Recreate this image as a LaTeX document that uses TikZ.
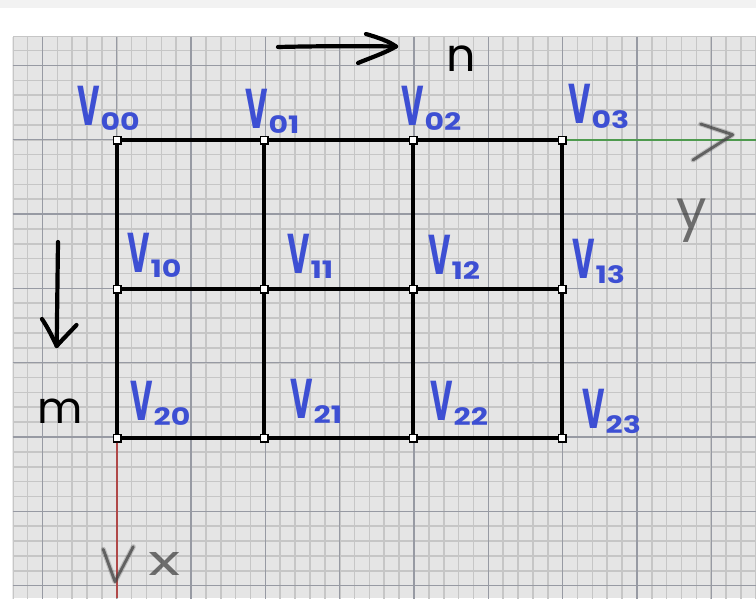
\documentclass[tikz,border=0pt]{standalone}
\usepackage{fontspec}
\setmainfont{Poppins}
\definecolor{paper}{HTML}{E5E5E5}
\definecolor{minorline}{HTML}{C6C6C6}
\definecolor{majorline}{HTML}{979AA3}
\definecolor{ink}{HTML}{3D4FD3}
\definecolor{axisgreen}{HTML}{4E9A4E}
\definecolor{axisred}{HTML}{B04848}
\definecolor{pencil}{HTML}{454545}
\definecolor{topband}{HTML}{F2F2F2}

% handwritten-style vertex name: narrow V with a wide subscript
\newcommand\vname[1]{\scalebox{0.55}[1]{\fontsize{56}{56}\selectfont V}\kern1pt\raisebox{-5pt}{\scalebox{1.25}[1]{\fontsize{24}{24}\selectfont #1}}}

\tikzset{
  vertex/.style={rectangle, draw=black, fill=white, line width=1.5pt, minimum size=7.5pt, inner sep=0pt},
  meshedge/.style={line width=3.3pt},
  vlabel/.style={text=ink, font=\bfseries, inner sep=0pt, anchor=base west},
  inkstroke/.style={line width=4.2pt, line cap=round, line join=round},
  pencilsoft/.style={draw=pencil, opacity=0.25, line width=5pt, line cap=round, line join=round},
  pencilhard/.style={draw=pencil, opacity=0.75, line width=2.8pt, line cap=round, line join=round},
  pencilnote/.style={inner sep=0pt, anchor=base west, text=pencil, text opacity=0.75},
}

\begin{document}
\begin{tikzpicture}[x=1pt,y=-1pt]
\useasboundingbox (0,0) rectangle (756,598);
\fill[white] (0,0) rectangle (756,598);
\fill[topband] (0,0) rectangle (756,8);

% squared paper
\begin{scope}
  \clip (12.5,36.5) rectangle (756,598);
  \fill[paper] (12.5,36.5) rectangle (756,598);
  \foreach \k in {0,...,50} {\draw[minorline, line width=1.6pt] ({12.78+14.86*\k},36.5) -- ++(0,562);}
  \foreach \k in {0,...,38} {\draw[minorline, line width=1.6pt] (12.5,{35.78+14.86*\k}) -- ++(744,0);}
  \foreach \k in {0,...,9} {\draw[majorline, line width=1.3pt] ({42.5+74.3*\k},36.5) -- ++(0,562);}
  \foreach \k in {0,...,7} {\draw[majorline, line width=1.3pt] (12.5,{65.5+74.3*\k}) -- ++(744,0);}
\end{scope}

% vertices of the mesh
\node[vertex] (v00) at (117,140) {};
\node[vertex] (v01) at (264,140) {};
\node[vertex] (v02) at (413,140) {};
\node[vertex] (v03) at (562,140) {};
\node[vertex] (v10) at (117,289) {};
\node[vertex] (v11) at (264,289) {};
\node[vertex] (v12) at (413,289) {};
\node[vertex] (v13) at (562,289) {};
\node[vertex] (v20) at (117,438) {};
\node[vertex] (v21) at (264,438) {};
\node[vertex] (v22) at (413,438) {};
\node[vertex] (v23) at (562,438) {};

% axes
\coordinate (yend) at (756,140);
\coordinate (xend) at (117,598);
\draw[axisgreen, line width=1.5pt] (v03) -- (yend);
\draw[axisred, line width=1.5pt] (v20) -- (xend);

% mesh edges
\foreach \r in {0,1,2} {
  \draw[meshedge] (v\r0) -- (v\r1);
  \draw[meshedge] (v\r1) -- (v\r2);
  \draw[meshedge] (v\r2) -- (v\r3);
}
\foreach \c in {0,1,2,3} {
  \draw[meshedge] (v0\c) -- (v1\c);
  \draw[meshedge] (v1\c) -- (v2\c);
}

% vertex names
\node[vlabel] (l00) at (77,125) {\vname{00}};
\node[vlabel] (l01) at (245,128) {\vname{01}};
\node[vlabel] (l02) at (401,125) {\vname{02}};
\node[vlabel] (l03) at (568,123) {\vname{03}};
\node[vlabel] (l10) at (127,272) {\vname{10}};
\node[vlabel] (l11) at (287,273) {\vname{11}};
\node[vlabel] (l12) at (428,274) {\vname{12}};
\node[vlabel] (l13) at (572,278) {\vname{13}};
\node[vlabel] (l20) at (130,420) {\vname{20}};
\node[vlabel] (l21) at (290,418) {\vname{21}};
\node[vlabel] (l22) at (430,420) {\vname{22}};
\node[vlabel] (l23) at (582,428) {\vname{23}};

% index directions
\draw[inkstroke] (278,47) .. controls (320,46) and (360,46) .. (396,46.5);
\draw[inkstroke] (366,34) .. controls (380,38) and (390,42) .. (396,46.5) .. controls (385,53) and (370,58) .. (358,63);
\node[inner sep=0pt, anchor=base west, font=\fontsize{46}{46}\selectfont] (nlab) at (446,71) {n};
\draw[inkstroke] (58,242) .. controls (57.5,280) and (57,320) .. (56.7,346);
\draw[inkstroke] (42,319) .. controls (48,328) and (53,338) .. (56.7,346) .. controls (62,340) and (70,332) .. (76.5,325);
\node[inner sep=0pt, anchor=base west, font=\fontsize{44}{44}\selectfont] (mlab) at (37,423) {m};

% pencilled axis names
\foreach \s in {pencilsoft, pencilhard} {
  \draw[\s] (700.7,124) -- (732.7,134.7) -- (693,160);
  \draw[\s] (103.3,549.3) -- (115,581.7) -- (133.3,546.7);
}
\node[pencilnote, font=\fontsize{54}{54}\selectfont] (ylab) at (676,228) {y};
\node[pencilnote, font=\fontsize{42}{42}\selectfont] (xlab) at (148,575) {\scalebox{1.6}[1]{x}};
\end{tikzpicture}
\end{document}
